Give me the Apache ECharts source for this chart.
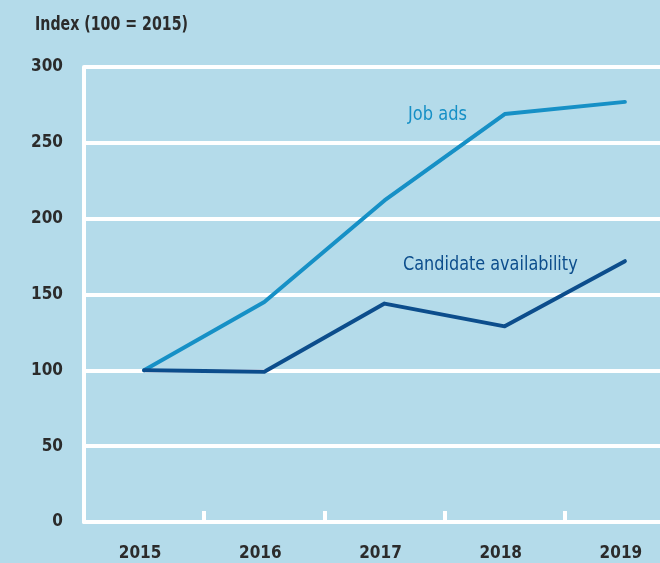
<!DOCTYPE html>
<html><head><meta charset="utf-8">
<script src="https://cdn.jsdelivr.net/npm/echarts@6/dist/echarts.min.js"></script>
<style>html,body{margin:0;padding:0;background:#b4dbea}#c{width:660px;height:563px}</style>
</head><body><div id="c"></div>
<script>
const years = ['2015','2016','2017','2018','2019'];
const jobAds = [100, 145, 212, 269, 277];
const candidates = [100, 99, 144, 129, 172];
const yTicks = [0, 50, 100, 150, 200, 250, 300];
const FONT = '"DejaVu Sans Condensed","Liberation Sans",sans-serif';
const chart = echarts.init(document.getElementById('c'));
chart.setOption({
  backgroundColor: '#b4dbea',
  animation: false,
  grid: {left: 84, top: 67, width: 601, height: 455, containLabel: false, outerBoundsMode: 'none'},
  xAxis: {
    type: 'category', data: years, boundaryGap: true,
    axisLine: {show: true, lineStyle: {color: '#fff', width: 4}},
    axisTick: {show: true, inside: true, alignWithLabel: false, interval: 0, length: 11, lineStyle: {color: '#fff', width: 4}},
    axisLabel: {color: '#2b2b2b', fontFamily: FONT, fontSize: 17, fontWeight: 'bold', margin: 23, padding: [0, 8, 0, 0]}
  },
  yAxis: {
    type: 'value', min: yTicks[0], max: yTicks[yTicks.length-1], interval: 50,
    axisLine: {show: true, lineStyle: {color: '#fff', width: 4}},
    axisTick: {show: false},
    splitLine: {lineStyle: {color: '#fff', width: 4}},
    axisLabel: {color: '#2b2b2b', fontFamily: FONT, fontSize: 17, fontWeight: 'bold', margin: 21}
  },
  graphic: [
    {type: 'text', x: 35, y: 15, scaleX: 0.83, scaleY: 1.05, style: {text: 'Index (100 = 2015)', fill: '#2b2b2b', font: 'bold 19px ' + FONT}},
    {type: 'text', x: 408, y: 106, scaleX: 0.95, style: {text: 'Job ads', fill: '#1690c6', font: '19px ' + FONT}},
    {type: 'text', x: 403, y: 256, scaleX: 0.94, style: {text: 'Candidate availability', fill: '#0c4d8c', font: '19px ' + FONT}}
  ],
  series: [
    {name: 'Job ads', type: 'line', data: jobAds, symbol: 'none', lineStyle: {color: '#1690c6', width: 4, cap: 'round', join: 'round'}},
    {name: 'Candidate availability', type: 'line', data: candidates, symbol: 'none', lineStyle: {color: '#0c4d8c', width: 4, cap: 'round', join: 'round'}}
  ]
});
</script></body></html>
